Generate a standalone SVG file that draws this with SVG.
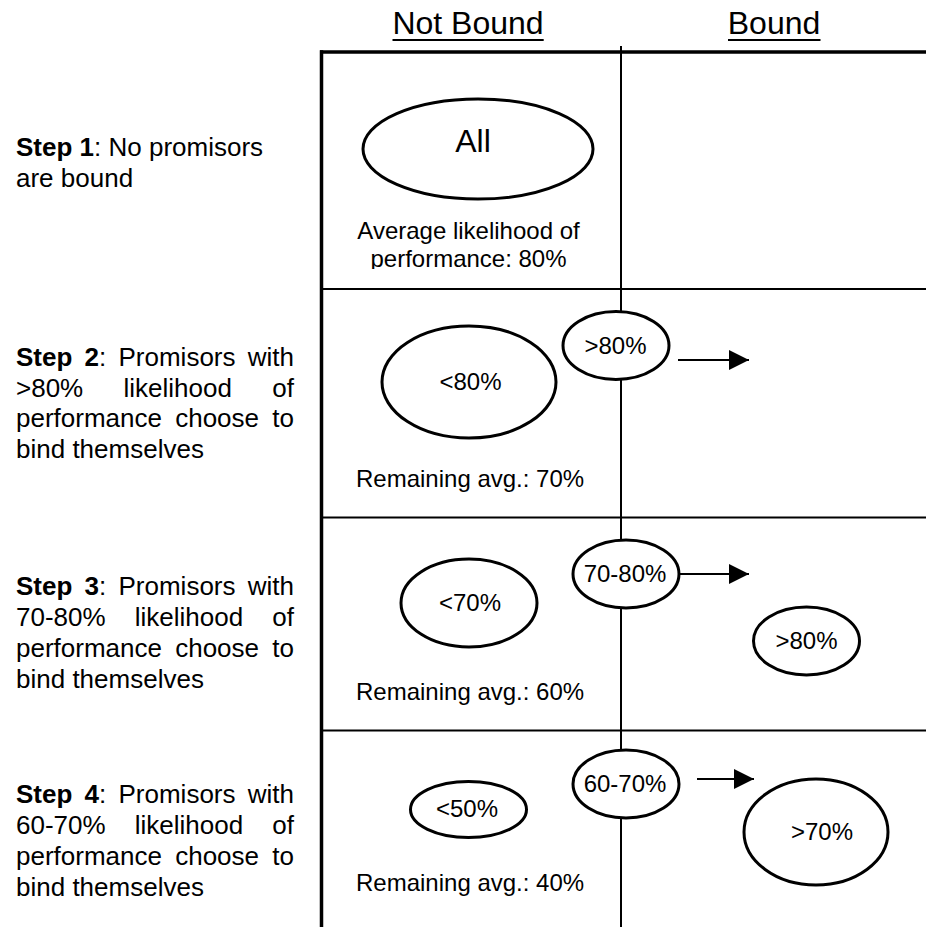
<svg xmlns="http://www.w3.org/2000/svg" width="926" height="927" viewBox="0 0 926 927">
<style>
text{font-family:"Liberation Sans",Arial,sans-serif;fill:#000}
.hdr{font-size:32px;text-anchor:middle}
.lbl{font-size:24px;text-anchor:middle}
.cell{font-size:24px}
.step{font-size:26px}
.b{font-weight:bold}
.ell{fill:#fff;stroke:#000;stroke-width:3}
.frame{stroke:#000;stroke-width:3.5;fill:none}
.grid{stroke:#000;stroke-width:2;fill:none}
.arrow{stroke:#000;stroke-width:2;fill:none;marker-end:url(#ah)}
</style>
<defs>
<marker id="ah" markerUnits="userSpaceOnUse" markerWidth="21" markerHeight="20" refX="20" refY="10" orient="auto">
<path d="M0,0 L20,10 L0,20 Z" fill="#000"/>
</marker>
<clipPath id="clip1"><rect x="320" y="0" width="300" height="269"/></clipPath>
</defs>
<rect width="926" height="927" fill="#fff"/>

<g id="headers">
<text class="hdr" x="468" y="34">Not Bound</text>
<line x1="392.5" y1="40" x2="543.7" y2="40" stroke="#000" stroke-width="2"/>
<text class="hdr" x="774" y="34">Bound</text>
<line x1="728" y1="40" x2="820.5" y2="40" stroke="#000" stroke-width="2"/>
</g>

<g id="grid">
<line class="frame" x1="320" y1="52" x2="926" y2="52"/>
<line class="frame" x1="321.5" y1="50.25" x2="321.5" y2="927"/>
<line class="grid" x1="621" y1="46" x2="621" y2="927"/>
<line class="grid" x1="321" y1="289" x2="926" y2="289"/>
<line class="grid" x1="321" y1="517.5" x2="926" y2="517.5"/>
<line class="grid" x1="321" y1="730.5" x2="926" y2="730.5"/>
</g>

<g id="step1">
<text class="step"><tspan x="16" y="156" class="b">Step 1</tspan>: No promisors<tspan x="16" y="187">are bound</tspan></text>
</g>
<g id="step2">
<text class="step"><tspan x="16" y="366" class="b">Step</tspan><tspan x="84.6" y="366" class="b">2</tspan><tspan>:</tspan><tspan x="118.5" y="366">Promisors</tspan><tspan x="294" y="366" text-anchor="end">with</tspan></text>
<text class="step"><tspan x="16" y="397">&gt;80%</tspan><tspan x="123.5" y="397">likelihood</tspan><tspan x="294" y="397" text-anchor="end">of</tspan></text>
<text class="step"><tspan x="16" y="427">performance</tspan><tspan x="175.2" y="427">choose</tspan><tspan x="294" y="427" text-anchor="end">to</tspan></text>
<text class="step" x="16" y="458">bind themselves</text>
</g>
<g id="step3">
<text class="step"><tspan x="16" y="595" class="b">Step</tspan><tspan x="84.6" y="595" class="b">3</tspan><tspan>:</tspan><tspan x="118.5" y="595">Promisors</tspan><tspan x="294" y="595" text-anchor="end">with</tspan></text>
<text class="step"><tspan x="16" y="626">70-80%</tspan><tspan x="134.7" y="626">likelihood</tspan><tspan x="294" y="626" text-anchor="end">of</tspan></text>
<text class="step"><tspan x="16" y="657">performance</tspan><tspan x="175.2" y="657">choose</tspan><tspan x="294" y="657" text-anchor="end">to</tspan></text>
<text class="step" x="16" y="688">bind themselves</text>
</g>
<g id="step4">
<text class="step"><tspan x="16" y="803" class="b">Step</tspan><tspan x="84.6" y="803" class="b">4</tspan><tspan>:</tspan><tspan x="118.5" y="803">Promisors</tspan><tspan x="294" y="803" text-anchor="end">with</tspan></text>
<text class="step"><tspan x="16" y="834">60-70%</tspan><tspan x="134.7" y="834">likelihood</tspan><tspan x="294" y="834" text-anchor="end">of</tspan></text>
<text class="step"><tspan x="16" y="865">performance</tspan><tspan x="175.2" y="865">choose</tspan><tspan x="294" y="865" text-anchor="end">to</tspan></text>
<text class="step" x="16" y="896">bind themselves</text>
</g>

<g id="connectors">
<line class="arrow" x1="678" y1="360" x2="749" y2="360"/>
<line class="arrow" x1="679" y1="574" x2="749" y2="574"/>
<line class="arrow" x1="697" y1="779" x2="754" y2="779"/>
</g>

<g id="all">
<ellipse class="ell" cx="478" cy="149" rx="115" ry="50"/>
<text x="473" y="152" style="font-size:32px;text-anchor:middle">All</text>
</g>
<g id="avg1">
<text class="lbl" x="468.5" y="239">Average likelihood of</text>
<text class="lbl" x="468.5" y="266.5" clip-path="url(#clip1)">performance: 80%</text>
</g>

<g id="lt80">
<ellipse class="ell" cx="469" cy="382" rx="87" ry="56"/>
<text class="lbl" x="470.5" y="390">&lt;80%</text>
</g>
<g id="gt80a">
<ellipse class="ell" cx="616" cy="345.5" rx="53" ry="34"/>
<text class="lbl" x="615.5" y="353.5">&gt;80%</text>
</g>
<g id="avg2"><text class="cell" x="356" y="487">Remaining avg.: 70%</text></g>

<g id="lt70">
<ellipse class="ell" cx="469" cy="603" rx="68" ry="44"/>
<text class="lbl" x="470" y="611">&lt;70%</text>
</g>
<g id="r7080">
<ellipse class="ell" cx="626" cy="574" rx="53" ry="34"/>
<text class="lbl" x="625" y="582">70-80%</text>
</g>
<g id="gt80b">
<ellipse class="ell" cx="806.5" cy="641" rx="53" ry="34"/>
<text class="lbl" x="806.5" y="649">&gt;80%</text>
</g>
<g id="avg3"><text class="cell" x="356" y="700">Remaining avg.: 60%</text></g>

<g id="lt50">
<ellipse class="ell" cx="468.5" cy="809.5" rx="58" ry="28"/>
<text class="lbl" x="467" y="817">&lt;50%</text>
</g>
<g id="r6070">
<ellipse class="ell" cx="626" cy="784" rx="53" ry="34"/>
<text class="lbl" x="625" y="792">60-70%</text>
</g>
<g id="gt70">
<ellipse class="ell" cx="816" cy="832" rx="72" ry="53"/>
<text class="lbl" x="822" y="840">&gt;70%</text>
</g>
<g id="avg4"><text class="cell" x="356" y="891">Remaining avg.: 40%</text></g>
</svg>
